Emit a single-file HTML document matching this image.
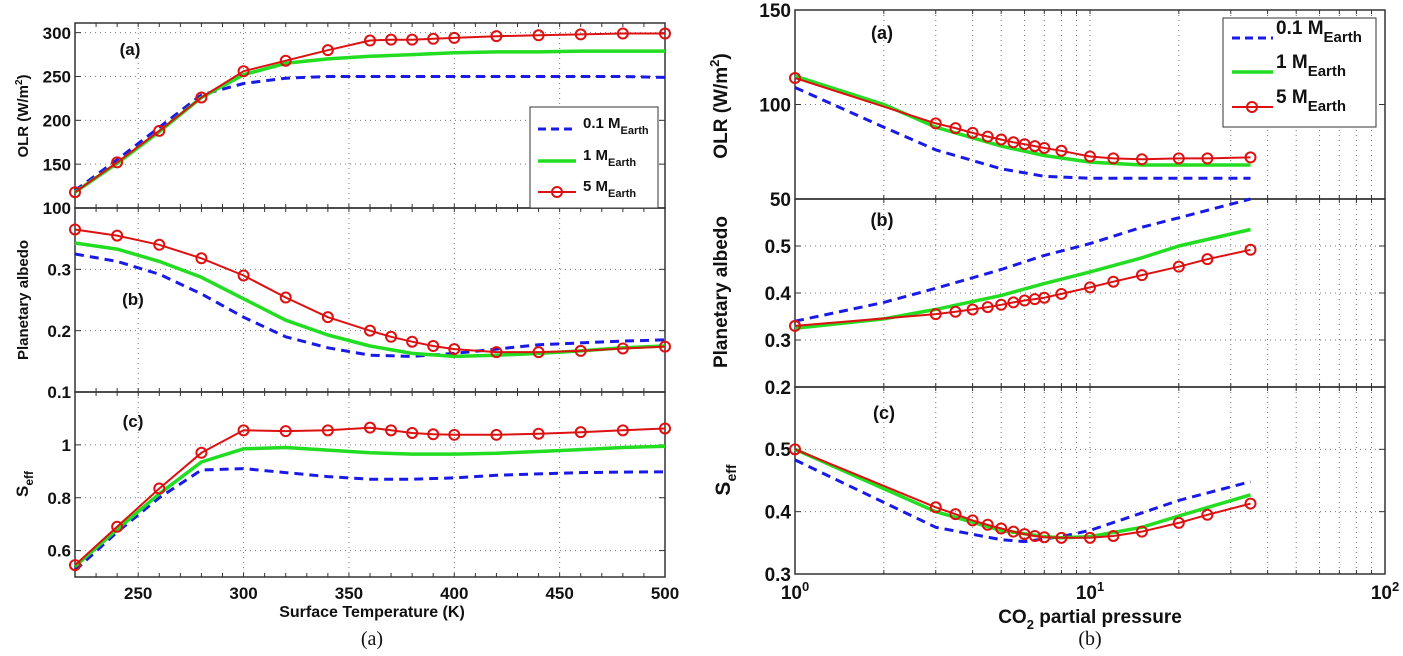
<!DOCTYPE html>
<html><head><meta charset="utf-8"><style>
html,body{margin:0;padding:0;background:#fff;}
svg{display:block;font-family:"Liberation Sans Narrow","Liberation Sans",sans-serif;font-weight:bold;}
</style></head><body>
<svg id="fig" width="1403" height="656" viewBox="0 0 1403 656" xmlns="http://www.w3.org/2000/svg"></svg>
<script>
// ---------- Left chart data (x = surface temperature K) ----------
const tRed = [220,240,260,280,300,320,340,360,370,380,390,400,420,440,460,480,500];
const tCurve = [220,240,260,280,300,320,340,360,380,400,420,440,460,480,500];
const olrRedL = [118,152,188,226,256,268,280,291,292,292,293,294,296,297,298,299,299];
const olrGreenL = [118,151,187,226,252,265,270,273,275,277,278,278,279,279,279];
const olrBlueL = [120,155,192,229,242,248,250,250,250,250,250,250,250,250,249];
const albRedL = [0.365,0.355,0.34,0.318,0.29,0.254,0.222,0.2,0.19,0.182,0.175,0.17,0.165,0.165,0.167,0.171,0.174];
const albGreenL = [0.343,0.333,0.313,0.287,0.252,0.217,0.193,0.175,0.163,0.158,0.16,0.163,0.167,0.172,0.175];
const albBlueL = [0.325,0.313,0.292,0.26,0.222,0.19,0.172,0.16,0.158,0.163,0.17,0.177,0.18,0.183,0.185];
const seffRedL = [0.545,0.69,0.835,0.97,1.055,1.052,1.055,1.065,1.055,1.045,1.04,1.038,1.038,1.042,1.048,1.055,1.062];
const seffGreenL = [0.54,0.68,0.815,0.935,0.985,0.99,0.98,0.97,0.965,0.965,0.968,0.975,0.982,0.99,0.995];
const seffBlueL = [0.525,0.67,0.8,0.905,0.91,0.895,0.88,0.87,0.87,0.875,0.885,0.89,0.895,0.897,0.898];
const xTicksL = [250,300,350,400,450,500];
const olrTicksL = [100,150,200,250,300];
const albTicksL = [0.1,0.2,0.3];
const seffTicksL = [0.6,0.8,1];

// ---------- Right chart data (x = CO2 partial pressure) ----------
const pRed = [1,3,3.5,4,4.5,5,5.5,6,6.5,7,8,10,12,15,20,25,35];
const olrRedR = [114,90,87.5,85,83,81.5,80,79,78,77,75.5,72.5,71.5,71,71.5,71.5,72];
const pGreenOlr = [1,2,3,5,7,10,15,20,35];
const olrGreenR = [115,100,88,78,73,69.5,68,68,68];
const pBlueOlr = [1,2,3,5,7,10,20,35];
const olrBlueR = [109,88,76,66,62,61,61,61];
const albRedR = [0.33,0.355,0.36,0.365,0.37,0.375,0.38,0.384,0.387,0.39,0.398,0.412,0.424,0.438,0.456,0.472,0.492];
const pGreenAlb = [1,2,3,5,7,10,15,20,35];
const albGreenR = [0.325,0.345,0.365,0.395,0.42,0.445,0.475,0.5,0.535];
const pBlueAlb = [1,2,3,5,7,10,15,20,35];
const albBlueR = [0.34,0.38,0.41,0.45,0.48,0.505,0.54,0.56,0.6];
const seffRedR = [0.5,0.407,0.396,0.386,0.379,0.373,0.368,0.364,0.361,0.359,0.358,0.358,0.361,0.368,0.382,0.395,0.413];
const pGreenSeff = [1,3,5,7,8,10,15,20,35];
const seffGreenR = [0.5,0.4,0.37,0.36,0.358,0.36,0.375,0.393,0.427];
const pBlueSeff = [1,3,5,6,8,10,15,20,35];
const seffBlueR = [0.483,0.375,0.355,0.352,0.36,0.37,0.398,0.418,0.448];
const olrTicksR = [50,100,150];
const albTicksR = [0.2,0.3,0.4,0.5];
const seffTicksR = [0.3,0.4,0.5];
const xDecadesR = [0,1,2];

const NS = "http://www.w3.org/2000/svg";
const svg = document.getElementById('fig');
function el(tag, attrs, parent){
  const e = document.createElementNS(NS, tag);
  for (const k in attrs) e.setAttribute(k, attrs[k]);
  (parent||svg).appendChild(e);
  return e;
}
function txt(s, x, y, size, anchor, parent){
  const t = el('text', {x:x, y:y, 'font-size':size, 'text-anchor':anchor||'middle', fill:'#111'}, parent);
  t.textContent = s;
  return t;
}

const L = {x0:75, x1:665, t0:220, t1:500};
function xL(t){ return L.x0 + (t - L.t0) / (L.t1 - L.t0) * (L.x1 - L.x0); }
const R = {x0:795, x1:1385};
function xR(p){ return R.x0 + Math.log10(p) / 2 * (R.x1 - R.x0); }
function yScale(top, bot, vmin, vmax){ return v => bot - (v - vmin) / (vmax - vmin) * (bot - top); }

const panelsL = [
  {top:23, bot:208, min:100, max:311, ticks:olrTicksL},
  {top:208, bot:392, min:0.1, max:0.4, ticks:albTicksL},
  {top:392, bot:577, min:0.5, max:1.2, ticks:seffTicksL}
];
const panelsR = [
  {top:10, bot:199, min:50, max:150, ticks:olrTicksR},
  {top:199, bot:387, min:0.2, max:0.6, ticks:albTicksR},
  {top:387, bot:574, min:0.3, max:0.6, ticks:seffTicksR}
];

function drawSeries(g, xs, ys, xf, yf, kind, name){
  const pts = xs.map((x,i)=> xf(x).toFixed(1)+','+yf(ys[i]).toFixed(1)).join(' ');
  let attrs = {points:pts, fill:'none', 'stroke-linejoin':'round'};
  if (kind==='blue'){ attrs.stroke='#1a1ae6'; attrs['stroke-width']=3; attrs['stroke-dasharray']='9,6'; }
  else if (kind==='green'){ attrs.stroke='#22dd22'; attrs['stroke-width']=3.5; }
  else { attrs.stroke='#dd1111'; attrs['stroke-width']=2; }
  const pl = el('polyline', attrs, g);
  
  
  if (kind==='red'){
    xs.forEach((x,i)=>{
      const c = el('circle', {cx:xf(x), cy:yf(ys[i]), r:5, fill:'none', stroke:'#dd1111', 'stroke-width':2}, g);
      
      
    });
  }
}

function drawPanelFrame(g, p, x0, x1, yf, vGrid, tickFont, tickX){
  vGrid.forEach(x=>{
    const l = el('line', {x1:x, x2:x, y1:p.top, y2:p.bot, stroke:'#777', 'stroke-width':1, 'stroke-dasharray':'1,4'}, g);
    
    
  });
  p.ticks.forEach(v=>{
    const y = yf(v);
    if (y > p.top + 1 && y < p.bot - 1){
      const l = el('line', {x1:x0, x2:x1, y1:y, y2:y, stroke:'#777', 'stroke-width':1, 'stroke-dasharray':'1,4'}, g);
      
      
    }
    el('line', {x1:x0, x2:x0+6, y1:y, y2:y, stroke:'#333', 'stroke-width':1}, g);
    el('line', {x1:x1-6, x2:x1, y1:y, y2:y, stroke:'#333', 'stroke-width':1}, g);
    const t = txt(String(v), tickX, y + tickFont*0.36, tickFont, 'end', g);
    
    
  });
  const r = el('rect', {x:x0, y:p.top, width:x1-x0, height:p.bot-p.top, fill:'none', stroke:'#333', 'stroke-width':1.5}, g);
  
  
}

// ---------- LEFT CHART ----------
const gL = el('g', {});


const gridXL = [250,300,350,400,450].map(xL);
const seriesL = [
  [olrBlueL, olrGreenL, olrRedL],
  [albBlueL, albGreenL, albRedL],
  [seffBlueL, seffGreenL, seffRedL]
];
const namesL = ['olr','albedo','seff'];
panelsL.forEach((p,i)=>{
  const g = el('g', {}, gL);
  
  
  const yf = yScale(p.top, p.bot, p.min, p.max);
  drawPanelFrame(g, p, L.x0, L.x1, yf, gridXL, 17, 71);
  for (let t=230; t<500; t+=10){
    el('line', {x1:xL(t), x2:xL(t), y1:p.bot, y2:p.bot-4, stroke:'#333', 'stroke-width':1}, g);
    el('line', {x1:xL(t), x2:xL(t), y1:p.top, y2:p.top+4, stroke:'#333', 'stroke-width':1}, g);
  }
  drawSeries(g, tCurve, seriesL[i][0], xL, yf, 'blue', 'series-0.1-mearth');
  drawSeries(g, tCurve, seriesL[i][1], xL, yf, 'green', 'series-1-mearth');
  drawSeries(g, tRed, seriesL[i][2], xL, yf, 'red', 'series-5-mearth');
});
xTicksL.forEach(t=>{
  const tl = txt(String(t), xL(t), 599, 17, 'middle', gL);
  
  
});
[['(a)',130,55],['(b)',133,305],['(c)',133,427]].forEach(a=>{
  const t = txt(a[0], a[1], a[2], 17, 'middle', gL);
  
  
});
function yTitle(parent, x, y, size, html, name){
  const t = el('text', {x:0, y:0, 'font-size':size, 'text-anchor':'middle', fill:'#111', transform:'translate('+x+','+y+') rotate(-90)', 'font-family':'"Liberation Sans",sans-serif'}, parent);
  t.innerHTML = html;
  
  
}
yTitle(gL, 28, 116, 15, 'OLR (W/m<tspan dy="-6" font-size="10">2</tspan><tspan dy="6">)</tspan>', 'y-axis-title-olr');
yTitle(gL, 28, 300, 15, 'Planetary albedo', 'y-axis-title-albedo');
yTitle(gL, 28, 484, 17, 'S<tspan dy="5" font-size="12">eff</tspan>', 'y-axis-title-seff');
const xtl = txt('Surface Temperature (K)', 372, 617, 16, 'middle', gL);


const capA = el('text', {x:372, y:645, 'font-size':20, 'text-anchor':'middle', fill:'#111', 'font-family':'"Liberation Serif",serif', 'font-weight':'normal'}, gL);
capA.textContent = '(a)';



const lgL = el('g', {}, gL);


el('rect', {x:530, y:107, width:128, height:101, fill:'#fff', stroke:'#333', 'stroke-width':1}, lgL);
[['blue','0.1',125],['green','1',157],['red','5',188]].forEach(e=>{
  const ge = el('g', {}, lgL);
  
  
  const y = e[2]+4;
  if (e[0]==='blue') el('line',{x1:538,x2:576,y1:y,y2:y,stroke:'#1a1ae6','stroke-width':3,'stroke-dasharray':'8,5'},ge);
  if (e[0]==='green') el('line',{x1:538,x2:576,y1:y,y2:y,stroke:'#22dd22','stroke-width':3.5},ge);
  if (e[0]==='red'){ el('line',{x1:538,x2:576,y1:y,y2:y,stroke:'#dd1111','stroke-width':2},ge); el('circle',{cx:557,cy:y,r:5,fill:'none',stroke:'#dd1111','stroke-width':2},ge); }
  const t = el('text',{x:583,y:e[2]+3,'font-size':15,fill:'#111'},ge);
  t.innerHTML = e[1]+' M<tspan dy="6" font-size="11">Earth</tspan>';
});

// ---------- RIGHT CHART ----------
const gR = el('g', {});


const gridXR = [];
[1,10].forEach(b=>{ for(let m=2;m<=9;m++) gridXR.push(xR(b*m)); });
gridXR.push(xR(10));
const seriesR = [
  [[pBlueOlr,olrBlueR],[pGreenOlr,olrGreenR],[pRed,olrRedR]],
  [[pBlueAlb,albBlueR],[pGreenAlb,albGreenR],[pRed,albRedR]],
  [[pBlueSeff,seffBlueR],[pGreenSeff,seffGreenR],[pRed,seffRedR]]
];
panelsR.forEach((p,i)=>{
  const g = el('g', {}, gR);
  
  
  const yf = yScale(p.top, p.bot, p.min, p.max);
  drawPanelFrame(g, p, R.x0, R.x1, yf, gridXR, 19, 791);
  gridXR.forEach(x=>{
    el('line', {x1:x, x2:x, y1:p.bot, y2:p.bot-4, stroke:'#333', 'stroke-width':1}, g);
    el('line', {x1:x, x2:x, y1:p.top, y2:p.top+4, stroke:'#333', 'stroke-width':1}, g);
  });
  drawSeries(g, seriesR[i][0][0], seriesR[i][0][1], xR, yf, 'blue', 'series-0.1-mearth');
  drawSeries(g, seriesR[i][1][0], seriesR[i][1][1], xR, yf, 'green', 'series-1-mearth');
  drawSeries(g, seriesR[i][2][0], seriesR[i][2][1], xR, yf, 'red', 'series-5-mearth');
});
xDecadesR.forEach(d=>{
  const t = el('text', {x:xR(Math.pow(10,d)), y:599, 'font-size':19, 'text-anchor':'middle', fill:'#111'}, gR);
  t.innerHTML = '10<tspan dy="-8" font-size="13">'+d+'</tspan>';
  
  
});
[['(a)',882,39],['(b)',882,226],['(c)',884,419]].forEach(a=>{
  const t = txt(a[0], a[1], a[2], 18, 'middle', gR);
  
  
});
yTitle(gR, 727, 106, 19, 'OLR (W/m<tspan dy="-8" font-size="13">2</tspan><tspan dy="8">)</tspan>', 'y-axis-title-olr');
yTitle(gR, 727, 292, 19, 'Planetary albedo', 'y-axis-title-albedo');
yTitle(gR, 730, 480, 21, 'S<tspan dy="6" font-size="14">eff</tspan>', 'y-axis-title-seff');
const xtr = el('text', {x:1090, y:623, 'font-size':19, 'text-anchor':'middle', fill:'#111'}, gR);
xtr.innerHTML = 'CO<tspan dy="6" font-size="13">2</tspan><tspan dy="-6"> partial pressure</tspan>';


const capB = el('text', {x:1090, y:645, 'font-size':20, 'text-anchor':'middle', fill:'#111', 'font-family':'"Liberation Serif",serif', 'font-weight':'normal'}, gR);
capB.textContent = '(b)';



const lgR = el('g', {}, gR);


el('rect', {x:1223, y:18, width:153, height:109, fill:'#fff', stroke:'#333', 'stroke-width':1}, lgR);
[['blue','0.1',38],['green','1',72],['red','5',107]].forEach(e=>{
  const ge = el('g', {}, lgR);
  
  
  const y = e[2];
  if (e[0]==='blue') el('line',{x1:1232,x2:1273,y1:y,y2:y,stroke:'#1a1ae6','stroke-width':3,'stroke-dasharray':'8,5'},ge);
  if (e[0]==='green') el('line',{x1:1232,x2:1273,y1:y,y2:y,stroke:'#22dd22','stroke-width':3.5},ge);
  if (e[0]==='red'){ el('line',{x1:1232,x2:1273,y1:y,y2:y,stroke:'#dd1111','stroke-width':2},ge); el('circle',{cx:1252,cy:y,r:5,fill:'none',stroke:'#dd1111','stroke-width':2},ge); }
  const t = el('text',{x:1276,y:e[2]-4,'font-size':19,fill:'#111'},ge);
  t.innerHTML = e[1]+' M<tspan dy="8" font-size="15">Earth</tspan>';
});
</script>
</body></html>
